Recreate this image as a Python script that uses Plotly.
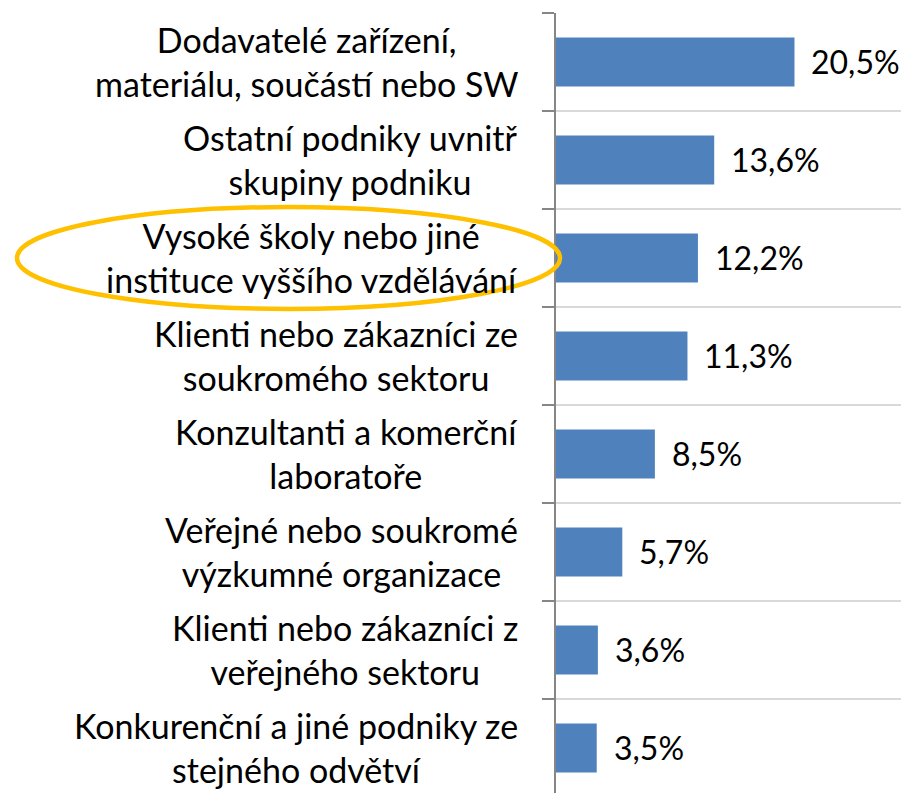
import plotly.graph_objects as go

categories = [
    "Dodavatelé zařízení,\nmateriálu, součástí nebo SW",
    "Ostatní podniky uvnitř\nskupiny podniku",
    "Vysoké školy nebo jiné\ninstituce vyššího vzdělávání",
    "Klienti nebo zákazníci ze\nsoukromého sektoru",
    "Konzultanti a komerční\nlaboratoře",
    "Veřejné nebo soukromé\nvýzkumné organizace",
    "Klienti nebo zákazníci z\nveřejného sektoru",
    "Konkurenční a jiné podniky ze\nstejného odvětví",
]
values = [20.5, 13.6, 12.2, 11.3, 8.5, 5.7, 3.6, 3.5]
highlight_index = 2

FONT = "Lato"
FS = 34
FS_VAL = 32
# the page body adds an 8px offset; figure sized to fit the 909x793 window
OFF = 8
W, H = 909 - OFF, 793 - OFF
ML, MR, MT, MB = 556 - OFF, 4, 13 - OFF, 0
YRANGE = [len(categories) - 1 + 0.46, -0.5]

idx = list(range(len(categories)))

fig = go.Figure()
fig.add_trace(go.Bar(
    x=values, y=idx, orientation="h", width=0.5,
    marker=dict(color="#4F81BD", line=dict(width=0)),
    hoverinfo="skip",
))

annotations = []
for i, (c, v) in enumerate(zip(categories, values)):
    annotations.append(dict(
        x=0, xref="paper", y=i, yref="y", xanchor="right", yanchor="middle",
        text=c.replace("\n", "<br>"), align="center", showarrow=False,
        xshift=-36, font=dict(family=FONT, size=FS, color="#000000"),
    ))
    annotations.append(dict(
        x=v, xref="x", y=i, yref="y", xanchor="left", yanchor="middle",
        text=f"{v:.1f}%".replace(".", ","), showarrow=False,
        xshift=15, font=dict(family=FONT, size=FS_VAL, color="#000000"),
    ))

def ypaper(v):
    lo, hi = YRANGE[1], YRANGE[0]
    return 1 - (v - lo) / (hi - lo)

pw = W - ML - MR
fig.add_shape(
    type="circle", xref="paper", yref="paper",
    x0=(17 - OFF - ML) / pw, x1=(560 - OFF - ML) / pw,
    y0=ypaper(highlight_index + 0.52), y1=ypaper(highlight_index - 0.52),
    line=dict(color="#FFC000", width=4.5), layer="above",
)

fig.update_layout(
    width=W, height=H,
    margin=dict(l=ML, r=MR, t=MT, b=MB, pad=0),
    paper_bgcolor="white", plot_bgcolor="white",
    showlegend=False,
    annotations=annotations,
    xaxis=dict(range=[0, 30], showticklabels=False, showgrid=False,
               zeroline=False, showline=False, ticks=""),
    yaxis=dict(range=YRANGE, tickmode="array",
               tickvals=[i - 0.5 for i in range(len(categories) + 1)],
               showticklabels=False, ticks="outside", ticklen=12,
               tickwidth=1.5, tickcolor="#868686",
               showgrid=True, gridcolor="#D9D9D9", gridwidth=1.5,
               showline=True, linecolor="#868686", linewidth=1.5,
               zeroline=False),
)

fig.write_html("out.html")
